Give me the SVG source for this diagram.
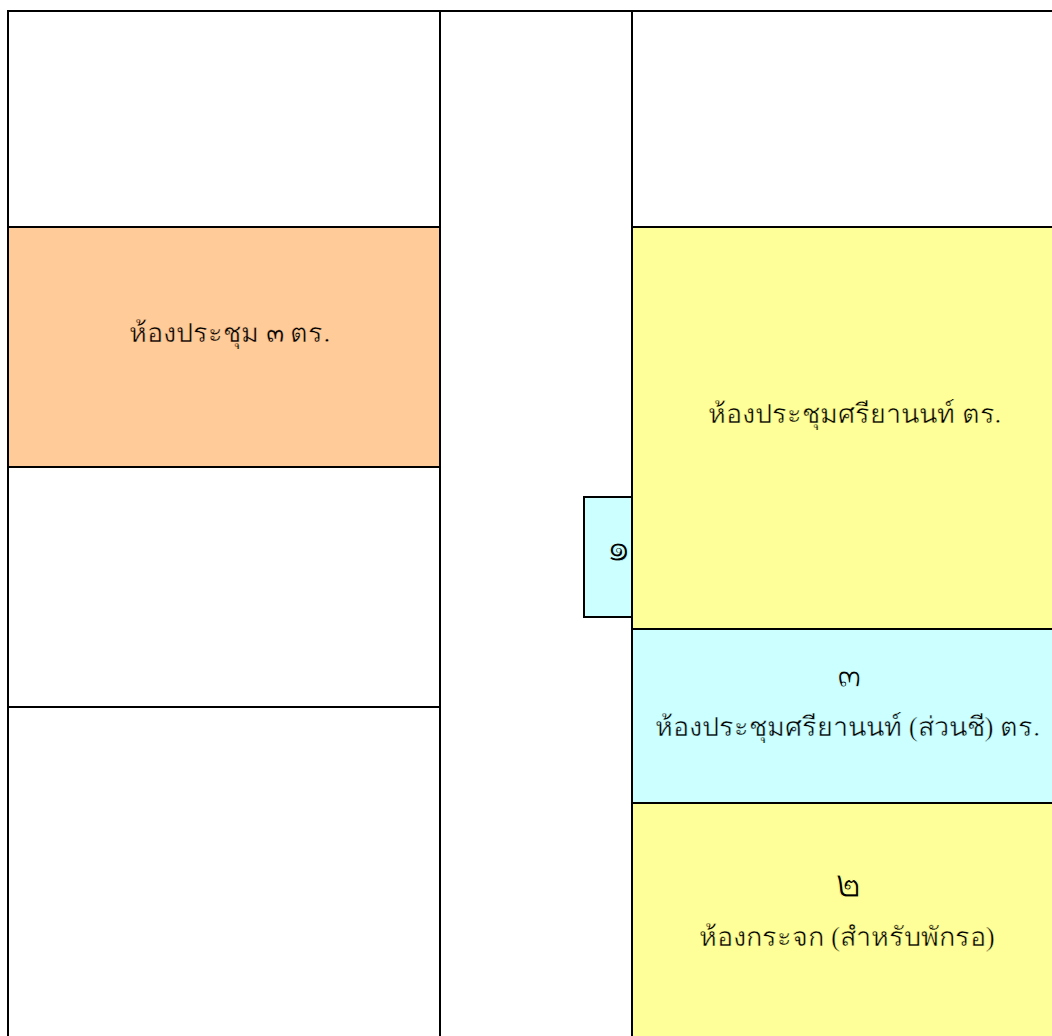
<svg xmlns="http://www.w3.org/2000/svg" width="1052" height="1036" viewBox="0 0 1052 1036">
<style>
.r{stroke:#000;stroke-width:2}
.t{font-family:"Liberation Serif",serif;font-size:27px;fill:#000;text-anchor:middle;stroke-width:.45}
.d{font-size:40px;stroke-width:1.1}
.d3{font-size:36px}
.o{stroke:#ffcc99}.y{stroke:#ffff99}.c{stroke:#ccffff}
</style>
<rect width="1052" height="1036" fill="#fff"/>
<g id="room-left-top"><rect class="r" x="8" y="11" width="432" height="216" fill="#fff"/></g>
<g id="room-3"><rect class="r" x="8" y="227" width="432" height="240" fill="#ffcc99"/><text class="t o" x="229.5" y="342">ห้องประชุม ๓ ตร.</text></g>
<g id="room-left-mid"><rect class="r" x="8" y="467" width="432" height="240" fill="#fff"/></g>
<g id="room-left-bottom"><rect class="r" x="8" y="707" width="432" height="340" fill="#fff"/></g>
<g id="corridor"><rect class="r" x="440" y="11" width="192" height="1036" fill="#fff"/></g>
<g id="room-right-top"><rect class="r" x="632" y="11" width="432" height="216" fill="#fff"/></g>
<g id="room-1"><rect class="r" x="584" y="497" width="48" height="120" fill="#ccffff"/><text class="t d c" x="618" y="561">๑</text></g>
<g id="room-sriyanon"><rect class="r" x="632" y="227" width="432" height="402" fill="#ffff99"/><text class="t y" x="854.5" y="423">ห้องประชุมศรียานนท์ ตร.</text></g>
<g id="room-sriyanon-nuns"><rect class="r" x="632" y="629" width="432" height="174" fill="#ccffff"/><text class="t d d3 c" x="849" y="687">๓</text><text class="t c" x="847.5" y="736">ห้องประชุมศรียานนท์ (ส่วนชี) ตร.</text></g>
<g id="room-glass"><rect class="r" x="632" y="803" width="432" height="244" fill="#ffff99"/><text class="t d y" x="848" y="897">๒</text><text class="t y" x="847" y="946">ห้องกระจก (สำหรับพักรอ)</text></g>
</svg>
